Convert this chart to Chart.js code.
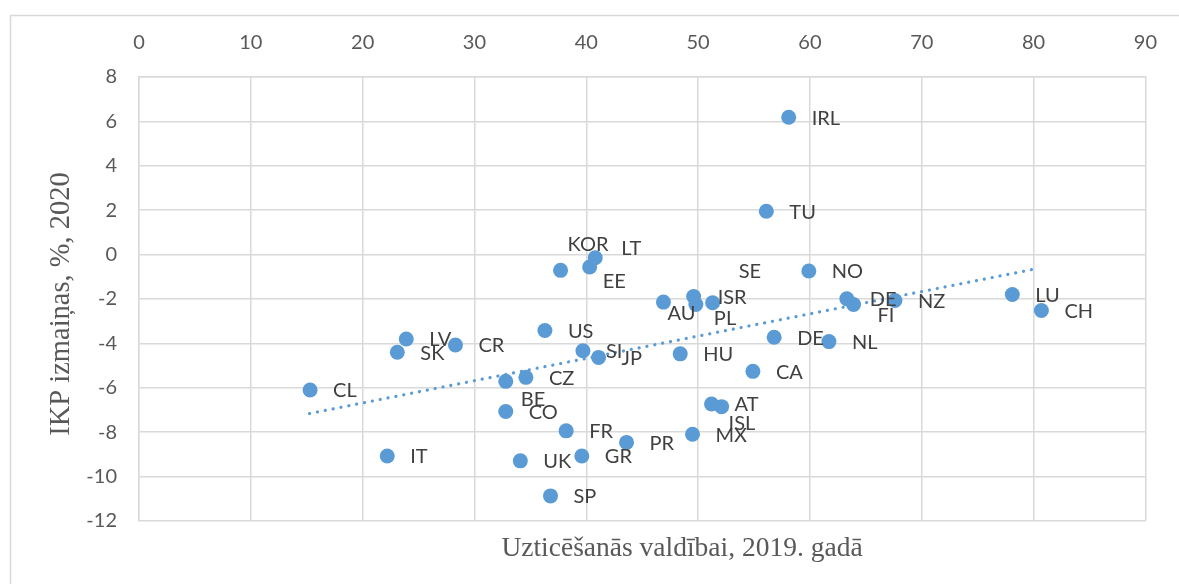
<!DOCTYPE html>
<html>
<head>
<meta charset="utf-8">
<script src="https://cdn.jsdelivr.net/npm/chart.js@4.4.1/dist/chart.umd.min.js"></script>
<style>
html,body{margin:0;padding:0;background:#fff;}
#wrap{width:1179px;height:584px;position:relative;}
</style>
</head>
<body>
<div id="wrap"><canvas id="c" width="1179" height="584"></canvas></div>
<script>
// ---- data ----
const countries = ["IRL","TU","KOR","LT","EE","SE","ISR","PL","AU","NO","DE","FI","NZ","LU","CH","DE","NL","US","SI","JP","HU","CA","LV","SK","CR","CL","BE","CZ","CO","AT","ISL","FR","PR","MX","IT","UK","GR","SP"];
const trust = [58.1,56.1,37.7,40.8,40.3,49.6,51.3,49.8,46.9,59.9,63.3,63.9,67.6,78.1,80.7,56.8,61.7,36.3,39.7,41.1,48.4,54.9,23.9,23.1,28.3,15.3,32.8,34.6,32.8,51.2,52.1,38.2,43.6,49.5,22.2,34.1,39.6,36.8];
const gdp = [6.19,1.95,-0.71,-0.14,-0.56,-1.89,-2.17,-2.25,-2.14,-0.74,-1.99,-2.25,-2.07,-1.80,-2.52,-3.72,-3.92,-3.42,-4.33,-4.63,-4.47,-5.26,-3.80,-4.40,-4.07,-6.10,-5.71,-5.53,-7.07,-6.73,-6.85,-7.94,-8.46,-8.09,-9.07,-9.29,-9.07,-10.87];
const trendX = [15.25, 80.5];
const trendY = [-7.16, -0.61];
const xTicks = [0,10,20,30,40,50,60,70,80,90];
const yTicks = [-12,-10,-8,-6,-4,-2,0,2,4,6,8];
const xTitle = "Uzticēšanās valdībai, 2019. gadā";
const yTitle = "IKP izmaiņas, %, 2020";

// ---- label placement (style, not data) ----
const defaultOffset = [23, 1];
const labelOffsets = {2:[7,-26],3:[26,-9],4:[13,15],5:[45,-25],6:[5,-5],7:[18,14],8:[4,11],11:[24,11],26:[15,18],30:[7,17]};

const blue = "#5B9BD5";
const grid = "#d9d9d9";

const points = trust.map((x,i)=>({x:x,y:gdp[i]}));
const trend = trendX.map((x,i)=>({x:x,y:trendY[i]}));

const decor = {
  id:'decor',
  beforeDraw(chart){
    const ctx = chart.ctx;
    ctx.save();
    ctx.fillStyle = '#fff';
    ctx.fillRect(0,0,chart.width,chart.height);
    ctx.strokeStyle = grid;
    ctx.lineWidth = 1.5;
    ctx.beginPath();
    ctx.moveTo(10.5, chart.height);
    ctx.lineTo(10.5, 15.5);
    ctx.lineTo(chart.width, 15.5);
    ctx.stroke();
    ctx.restore();
  },
  afterDraw(chart){
    const ctx = chart.ctx;
    ctx.save();
    ctx.fillStyle = '#595959';
    ctx.textAlign = 'center';
    ctx.textBaseline = 'middle';
    ctx.font = '27.5px "Liberation Serif", "Times New Roman", serif';
    ctx.fillText(xTitle, 682, 549);
    ctx.font = '28.5px "Liberation Serif", "Times New Roman", serif';
    ctx.translate(62, 304);
    ctx.rotate(-Math.PI/2);
    ctx.fillText(yTitle, 0, 0);
    ctx.restore();
  },
  afterDatasetsDraw(chart){
    const ctx = chart.ctx;
    const meta = chart.getDatasetMeta(0);
    ctx.save();
    ctx.fillStyle = '#404040';
    ctx.font = '20px Lato, "Open Sans", sans-serif';
    ctx.textAlign = 'left';
    ctx.textBaseline = 'middle';
    meta.data.forEach((el,i)=>{
      const off = labelOffsets[i] || defaultOffset;
      ctx.fillText(countries[i], el.x + off[0], el.y + off[1]);
    });
    ctx.restore();
  }
};

new Chart(document.getElementById('c'), {
  type:'scatter',
  data:{
    datasets:[
      {data:points, backgroundColor:blue, borderColor:blue, pointRadius:7.5, pointHoverRadius:7.5, borderWidth:0, order:2},
      {type:'line', data:trend, showLine:true, borderColor:blue, borderWidth:3.2, borderDash:[0.1,7.9], borderCapStyle:'round', pointRadius:0, fill:false, order:1}
    ]
  },
  options:{
    responsive:false,
    animation:false,
    events:[],
    layout:{padding:{left:0,right:31,top:0,bottom:63}},
    plugins:{legend:{display:false}, tooltip:{enabled:false}},
    scales:{
      x:{
        type:'linear', position:'top', min:0, max:90,
        afterBuildTicks(s){ s.ticks = xTicks.map(v=>({value:v})); },
        afterFit(s){ s.height = 77; },
        grid:{color:grid, lineWidth:1.5, drawTicks:false},
        border:{color:grid, width:1.5},
        ticks:{color:'#595959', padding:22, font:{family:'Lato', size:20}}
      },
      y:{
        type:'linear', min:-12, max:8,
        afterBuildTicks(s){ s.ticks = yTicks.map(v=>({value:v})); },
        afterFit(s){ s.width = 139; },
        grid:{color:grid, lineWidth:1.5, drawTicks:false},
        border:{color:grid, width:1.5},
        ticks:{color:'#595959', padding:22, font:{family:'Lato', size:20}}
      }
    }
  },
  plugins:[decor]
});
</script>
</body>
</html>
